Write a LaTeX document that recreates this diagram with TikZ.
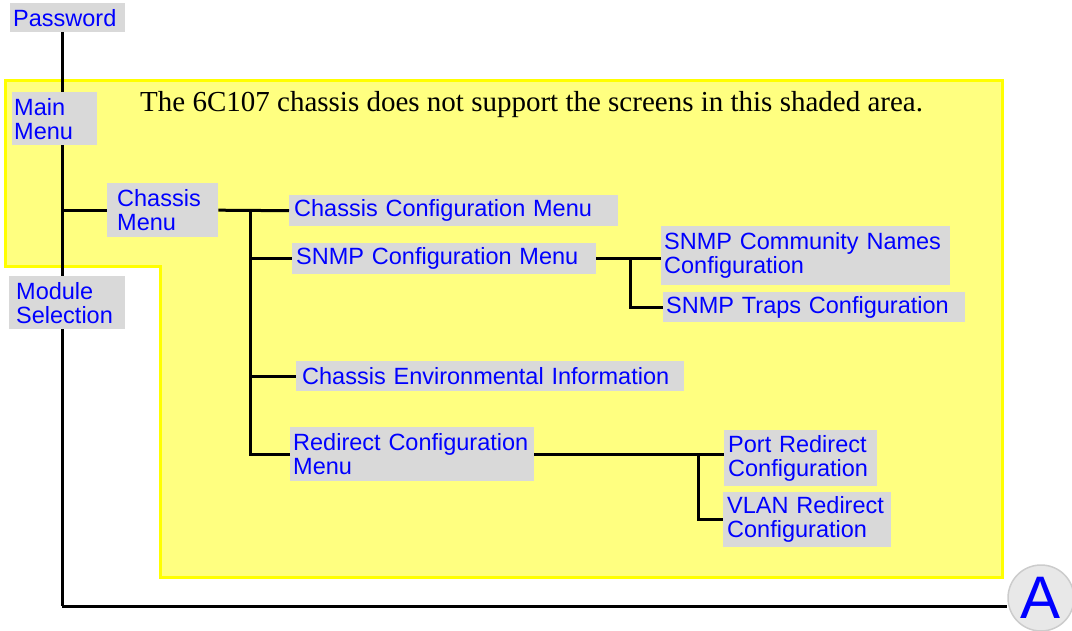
\documentclass[tikz,border=0pt]{standalone}
\usepackage{fontspec}
\setmainfont{Liberation Serif}
\newfontfamily\menufont{Liberation Sans}
\definecolor{shade}{RGB}{255,255,128}
\definecolor{shadeline}{RGB}{255,255,0}
\definecolor{boxgray}{RGB}{217,217,217}
\definecolor{menublue}{RGB}{0,0,255}
\tikzset{
	menubox/.style={fill=boxgray, text=menublue, anchor=north west, align=left,
		inner xsep=3pt, inner ysep=0pt, font=\menufont\fontsize{23.5}{24}\selectfont},
	link/.style={line width=3pt}
}
\begin{document}
\begin{tikzpicture}[x=1pt,y=-1pt]
	\useasboundingbox (0,0) rectangle (1072,631);
	
	% shaded area
	\filldraw[fill=shade, draw=shadeline, line width=3pt]
		(5,81) -- (1002,81) -- (1002,577) -- (160,577) -- (160,267) -- (5,267) -- cycle;
	\node[anchor=base west, inner sep=0pt, font=\fontsize{29}{32}\selectfont] (note) at (140,112)
		{The 6C107 chassis does not support the screens in this shaded area.};
	
	\coordinate (trunk) at (62,606);
	\coordinate (cbus) at (250,210);
	\coordinate (sbus) at (630,258);
	\coordinate (rbus) at (698,456);
	
	\node[menubox, text width=109pt, minimum height=29pt] (password) at (10,3) {Password};
	\draw[link] (password.south -| trunk) -- (trunk);
	
	\node[menubox, inner xsep=2pt, text width=81pt, minimum height=53pt] (mainmenu) at (12,92) {Main\\Menu};
	\node[menubox, inner xsep=10pt, text width=91pt, minimum height=54pt] (chassis) at (107,183) {Chassis\\Menu};
	\node[menubox, inner xsep=7pt, text width=102pt, minimum height=53pt] (module) at (9,276) {Module\\Selection};
	
	\node[menubox, inner xsep=5pt, text width=319pt, minimum height=31pt] (chassisconf) at (289,195) {Chassis Configuration Menu};
	\node[menubox, inner xsep=4pt, text width=296pt, minimum height=31pt] (snmpconf) at (292,243) {SNMP Configuration Menu};
	\node[menubox, text width=283pt, minimum height=59pt] (snmpcomm) at (661,226) {SNMP Community Names\\Configuration};
	\node[menubox, text width=296pt, minimum height=30pt] (snmptraps) at (663,292) {SNMP Traps Configuration};
	\node[menubox, inner xsep=6pt, text width=376pt, minimum height=30pt] (chassisenv) at (296,361) {Chassis Environmental Information};
	\node[menubox, text width=238pt, minimum height=54pt] (redirect) at (290,427) {Redirect Configuration\\Menu};
	\node[menubox, inner xsep=4pt, text width=145pt, minimum height=56pt] (portred) at (724,430) {Port Redirect\\Configuration};
	\node[menubox, inner xsep=4pt, text width=160pt, minimum height=55pt] (vlanred) at (723,492) {VLAN Redirect\\Configuration};
	
	\node[circle, fill=gray!18, draw=gray!40, line width=1.5pt, minimum size=66pt, inner sep=0pt,
		text=menublue, font=\menufont\fontsize{60}{60}\selectfont] (connA) at (1041,598) {A};
	
	% connectors
	\draw[link] (trunk) -- (trunk -| connA.west);
	\draw[link] (trunk |- chassis.west) -- (chassis.west);
	\draw[link] (chassis.east) -- (chassisconf.west);
	\draw[link] (cbus) |- (redirect.west);
	\draw[link] (cbus |- snmpconf.west) -- (snmpconf.west);
	\draw[link] (cbus |- chassisenv.west) -- (chassisenv.west);
	\draw[link] (snmpconf.east) -- (snmpcomm.west |- snmpconf.east);
	\draw[link] (sbus) |- (snmptraps.west);
	\draw[link] (redirect.east) -- (portred.west |- redirect.east);
	\draw[link] (rbus) |- (vlanred.west);
\end{tikzpicture}
\end{document}
